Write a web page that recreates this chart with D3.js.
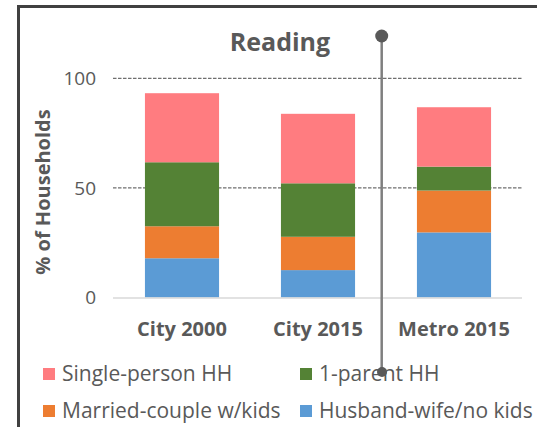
<!DOCTYPE html>
<html>
<head>
<meta charset="utf-8">
<script src="https://cdn.jsdelivr.net/npm/d3@7"></script>
<style>
   body { margin: 0; background: #fff; }
   text { font-family: "Open Sans", sans-serif; fill: #595959; }
</style>
</head>
<body>
<script>
// chart values
var categories = ["City 2000", "City 2015", "Metro 2015"];
var seriesNames = ["Husband-wife/no kids", "Married-couple w/kids", "1-parent HH", "Single-person HH"];
var husbandWife = [17.9, 12.5, 29.7];
var marriedKids = [14.6, 15.2, 19.1];
var oneParent = [29.2, 24.4, 10.9];
var singlePerson = [31.5, 31.7, 27.1];
var yTicks = [0, 50, 100];
var legendOrder = ["Single-person HH", "1-parent HH", "Married-couple w/kids", "Husband-wife/no kids"];

var colors = {
   "Husband-wife/no kids": "#5b9bd5",
   "Married-couple w/kids": "#ed7d31",
   "1-parent HH": "#548235",
   "Single-person HH": "#ff7c80"
};

var rows = categories.map(function(c, i) {
   var r = { cat: c };
   r["Husband-wife/no kids"] = husbandWife[i];
   r["Married-couple w/kids"] = marriedKids[i];
   r["1-parent HH"] = oneParent[i];
   r["Single-person HH"] = singlePerson[i];
   return r;
});

var svg = d3.select("body")
   .append("svg")
   .attr("width", 537)
   .attr("height", 427);

// outer frame (runs off the right and bottom)
svg.append("rect")
   .attr("x", 18.5)
   .attr("y", 6.5)
   .attr("width", 700)
   .attr("height", 600)
   .style("fill", "none")
   .style("stroke", "#404040")
   .style("stroke-width", 3);

var x = d3.scaleBand()
   .domain(categories)
   .range([114, 522]);

var y = d3.scaleLinear()
   .domain([0, 100])
   .range([297.5, 78.3]);

var barW = x.bandwidth() * 0.545;

// gridlines
svg.selectAll(".grid")
   .data(yTicks.filter(function(d) { return d > 0 }))
   .enter()
   .append("line")
   .attr("x1", 113)
   .attr("x2", 522)
   .attr("y1", function(d) { return y(d) })
   .attr("y2", function(d) { return y(d) })
   .style("stroke", "#6f6f6f")
   .style("stroke-width", 1.2)
   .style("stroke-dasharray", "3.5,1.5");

// tick labels
svg.selectAll(".tick")
   .data(yTicks)
   .enter()
   .append("text")
   .attr("x", 96)
   .attr("y", function(d) { return y(d) })
   .attr("dy", "0.35em")
   .attr("text-anchor", "end")
   .style("font-size", "19px")
   .text(function(d) { return d });

var stack = d3.stack().keys(seriesNames);
var layers = stack(rows);

var groups = svg.selectAll(".layer")
   .data(layers)
   .enter()
   .append("g")
   .style("fill", function(d) { return colors[d.key] });

groups.selectAll("rect")
   .data(function(d) { return d })
   .enter()
   .append("rect")
   .attr("x", function(d) { return x(d.data.cat) + (x.bandwidth() - barW) / 2 })
   .attr("width", barW)
   .attr("y", function(d) { return y(d[1]) })
   .attr("height", function(d) { return y(d[0]) - y(d[1]) });

// baseline
svg.append("line")
   .attr("x1", 113)
   .attr("x2", 522)
   .attr("y1", y(0) + 0.5)
   .attr("y2", y(0) + 0.5)
   .style("stroke", "#d9d9d9")
   .style("stroke-width", 1.5);

// category labels
svg.selectAll(".cat")
   .data(categories)
   .enter()
   .append("text")
   .attr("x", function(d) { return x(d) + x.bandwidth() / 2 })
   .attr("y", 336)
   .attr("text-anchor", "middle")
   .style("font-size", "20px")
   .style("font-weight", "bold")
   .text(function(d) { return d });

// title
svg.append("text")
   .attr("x", 280)
   .attr("y", 51)
   .attr("text-anchor", "middle")
   .style("font-size", "25px")
   .style("font-weight", "bold")
   .text("Reading");

// y axis title
svg.append("text")
   .attr("transform", "translate(50,192) rotate(-90)")
   .attr("text-anchor", "middle")
   .style("font-size", "20px")
   .style("font-weight", "bold")
   .text("% of Households");

// legend
var legend = svg.selectAll(".legend")
   .data(legendOrder)
   .enter()
   .append("g")
   .attr("transform", function(d, i) {
      return "translate(" + (i % 2 === 0 ? 43 : 300) + "," + (i < 2 ? 374 : 411) + ")"
   });

legend.append("rect")
   .attr("x", 0)
   .attr("y", -6)
   .attr("width", 12)
   .attr("height", 12)
   .style("fill", function(d) { return colors[d] });

legend.append("text")
   .attr("x", 19)
   .attr("y", 0)
   .attr("dy", "0.35em")
   .style("font-size", "21px")
   .text(function(d) { return d });

// vertical pin line
svg.append("line")
   .attr("x1", 381.7)
   .attr("x2", 381.7)
   .attr("y1", 36)
   .attr("y2", 372)
   .style("stroke", "#7f7f7f")
   .style("stroke-width", 2.5);

svg.append("circle")
   .attr("cx", 381.7)
   .attr("cy", 36)
   .attr("r", 6.5)
   .style("fill", "#595959");

svg.append("circle")
   .attr("cx", 382)
   .attr("cy", 372)
   .attr("r", 5)
   .style("fill", "#595959");
</script>
</body>
</html>
